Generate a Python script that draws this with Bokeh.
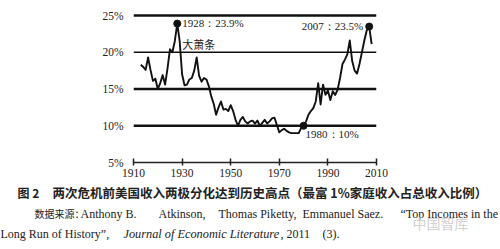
from bokeh.plotting import figure
from bokeh.models import Label, FixedTicker, ColumnDataSource, Range1d
from bokeh.layouts import column, row
from bokeh.core.properties import value
from bokeh.embed import file_html
from bokeh.resources import INLINE

# ---------------- data ----------------
years = list(range(1913, 2009))
share = [
    18.3, 18.0, 17.6, 19.3, 17.6, 16.1, 16.4,
    15.0, 15.8, 16.9, 15.6, 17.8, 20.4, 20.0, 21.5, 23.9, 21.5,
    17.0, 15.5, 15.6, 16.3, 16.5, 17.5, 19.3, 16.8, 16.0, 16.5,
    16.3, 15.4, 14.0, 13.0, 11.5, 12.5, 13.3, 12.2, 12.3, 12.0,
    12.8, 12.0, 10.8, 10.0, 10.8, 11.2, 10.6, 10.3, 10.6, 10.7,
    10.3, 10.7, 10.0, 10.4, 10.8, 10.3, 10.6, 11.0, 11.1, 10.1,
    9.1, 9.4, 9.6, 9.3, 9.1, 9.0, 9.0, 9.0, 9.0, 9.7,
    10.0, 10.6, 11.5, 12.0, 12.4, 13.3, 15.8, 12.9, 15.6, 14.2,
    14.8, 13.5, 14.7, 14.2, 14.9, 16.5, 18.4, 19.0, 19.7, 21.6,
    18.8, 17.5, 17.1, 18.4, 20.0, 21.6, 23.0, 23.5, 21.1,
]
x_ticks = [1910, 1930, 1950, 1970, 1990, 2010]
y_ticks = [5, 10, 15, 20, 25]
y_tick_labels = ["5%", "10%", "15%", "20%", "25%"]
grid_values = [10, 15, 20, 25]
marked_years = [1928, 2007, 1980]
marked_values = [23.9, 23.5, 10.0]
marked_labels = ["1928：23.9%", "2007：23.5%", "1980：10%"]
event_label = "大萧条"

title_prefix = "图 2"
title_text = "两次危机前美国收入两极分化达到历史高点（最富 1%家庭收入占总收入比例）"
source_cn = "数据来源："
source_line2_parts = ["Anthony B.", "Atkinson,", "Thomas Piketty,", "Emmanuel Saez.",
                      "“Top Incomes in the"]
source_line3a = "Long Run of History”,"
source_line3b = "Journal of Economic Literature"
source_line3c = [", 2011", "(3)."]
watermark = "中国智库"

# ---------------- layout ----------------
W = 500
CHART_H = 183
CAP_H = 249 - CHART_H
LEFT, TOP, FW, FH = 133, 12, 243, 150
X0, X1 = 1910, 2010
Y0 = 5
PX_PER_UNIT = 147 / 20.0
Y1 = Y0 + FH / PX_PER_UNIT

p = figure(width=W, height=CHART_H, output_backend="svg", toolbar_location=None,
           x_range=Range1d(X0, X1), y_range=Range1d(Y0, Y1),
           min_border_left=LEFT, min_border_right=W - LEFT - FW,
           min_border_top=TOP, min_border_bottom=CHART_H - TOP - FH)
p.outline_line_color = None
p.background_fill_color = "white"
p.border_fill_color = "white"
p.xgrid.visible = False
p.ygrid.visible = False

SERIF = "Liberation Serif"
CJK = "Noto Sans CJK SC"
TXT = "#222222"

# axes
p.xaxis.ticker = FixedTicker(ticks=x_ticks)
p.xaxis.axis_line_color = "#222222"
p.xaxis.axis_line_width = 1.3
p.xaxis.major_tick_line_color = "#222222"
p.xaxis.major_tick_line_width = 1.5
p.xaxis.major_tick_in = 4
p.xaxis.major_tick_out = 3
p.xaxis.minor_tick_line_color = None
p.xaxis.major_label_standoff = 3
p.xaxis.major_label_text_font = SERIF
p.xaxis.major_label_text_font_size = "11.5px"
p.xaxis.major_label_text_color = TXT

p.yaxis.ticker = FixedTicker(ticks=y_ticks)
p.yaxis.major_label_overrides = {t: l for t, l in zip(y_ticks, y_tick_labels)}
p.yaxis.axis_line_color = None
p.yaxis.major_tick_line_color = None
p.yaxis.minor_tick_line_color = None
p.yaxis.major_label_standoff = 4
p.yaxis.major_label_text_font = SERIF
p.yaxis.major_label_text_font_size = "11.5px"
p.yaxis.major_label_text_color = TXT

# horizontal reference lines
grid_src = ColumnDataSource(dict(
    x0=[X0] * len(grid_values), x1=[X1] * len(grid_values), y=grid_values,
    w=[2.6 if v != 20 else 1.3 for v in grid_values]))
p.segment(x0="x0", y0="y", x1="x1", y1="y", line_width="w",
          line_color="#111111", source=grid_src)

# series
p.line(years, share, line_color="#111111", line_width=1.9, line_join="round")
p.scatter(marked_years, marked_values, size=7, color="#111111")

# annotations on chart
ann = dict(text_font=SERIF, text_font_size="11px", text_color=TXT,
           text_baseline="middle")
p.add_layout(Label(x=marked_years[0], y=marked_values[0], x_offset=5, y_offset=1,
                   text=marked_labels[0], **ann))
p.add_layout(Label(x=marked_years[0], y=marked_values[0], x_offset=5, y_offset=-20,
                   text=event_label, text_font=CJK, text_font_size="11px",
                   text_color=TXT, text_baseline="middle"))
p.add_layout(Label(x=marked_years[1], y=marked_values[1], x_offset=-6, y_offset=1,
                   text=marked_labels[1], text_align="right", **ann))
p.add_layout(Label(x=marked_years[2], y=marked_values[2], x_offset=2, y_offset=-8,
                   text=marked_labels[2], **ann))

# ---------------- caption (second figure, pixel-like coordinates) ----------------
c = figure(width=W, height=CAP_H, output_backend="svg", toolbar_location=None,
           x_range=Range1d(0, W), y_range=Range1d(249, CHART_H),
           min_border_left=0, min_border_right=0, min_border_top=0,
           min_border_bottom=0, x_axis_location=None, y_axis_location=None)
c.outline_line_color = None
c.xgrid.visible = False
c.ygrid.visible = False
c.background_fill_color = "white"
c.border_fill_color = "white"


def cap_text(x, y, txt, font, size, style="normal", color=TXT):
    c.text(x=[x], y=[y], text=[txt], text_font=value(font),
           text_font_size=value(size), text_font_style=style,
           text_color=color, text_baseline="middle", text_align="left")


cap_text(17, 192, title_prefix, CJK, "12px", "bold")
cap_text(52, 192, title_text, CJK, "12.5px", "bold")
cap_text(34, 213, source_cn, CJK, "10px")
for xpos, part in zip([80, 158, 218, 302, 400], source_line2_parts):
    cap_text(xpos, 213, part, SERIF, "12px")
cap_text(0, 233, source_line3a, SERIF, "12px")
cap_text(123, 233, source_line3b, SERIF, "12.3px", "italic")
cap_text(280, 233, source_line3c[0], SERIF, "12px")
cap_text(322, 233, source_line3c[1], SERIF, "12px")
cap_text(412, 222, watermark, CJK, "14px", "normal", "#d2d2d2")

layout = column(p, row(c, spacing=0), spacing=0)
open("out.html", "w").write(file_html(layout, INLINE))
